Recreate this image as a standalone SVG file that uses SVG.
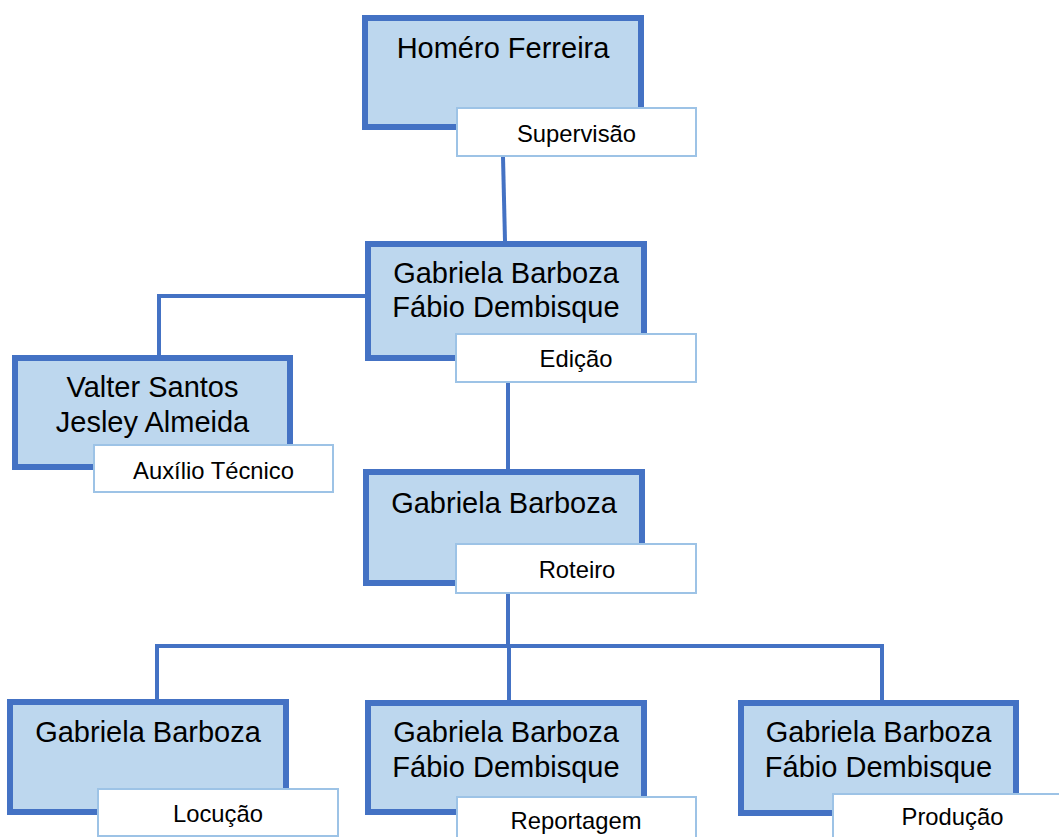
<svg xmlns="http://www.w3.org/2000/svg" width="1059" height="837" viewBox="0 0 1059 837">
<style>
.box{fill:#BDD7EE;stroke:#4472C4;stroke-width:6}
.lab{fill:#FFFFFF;stroke:#9DC3E6;stroke-width:2}
.conn{fill:none;stroke:#4472C4;stroke-width:4}
.mt{font-family:"Liberation Sans",Arial,sans-serif;font-size:29px;fill:#000;text-anchor:middle}
.lt{font-family:"Liberation Sans",Arial,sans-serif;font-size:23.8px;fill:#000;text-anchor:middle}
</style>
<rect width="1059" height="837" fill="#FFFFFF"/>
<g id="connectors">
<path class="conn" d="M503,157 L505,241"/>
<path class="conn" d="M366,296 L159,296 L159,356"/>
<path class="conn" d="M508,383 L508,470"/>
<path class="conn" d="M508,594 L508,646"/>
<path class="conn" d="M157,700 L157,646 L882,646 L882,701"/>
<path class="conn" d="M509,646 L509,701"/>
</g>
<g id="n-homero">
<rect class="box" x="365" y="18" width="276" height="109"/>
<text class="mt" x="503" y="58">Homéro Ferreira</text>
<rect class="lab" x="457" y="108" width="239" height="48"/>
<text class="lt" x="576.5" y="142">Supervisão</text>
</g>
<g id="n-edicao">
<rect class="box" x="368" y="244" width="276" height="114"/>
<text class="mt" x="506" y="283">Gabriela Barboza</text>
<text class="mt" x="506" y="317">Fábio Dembisque</text>
<rect class="lab" x="456" y="334" width="240" height="48"/>
<text class="lt" x="576" y="367">Edição</text>
</g>
<g id="n-auxilio">
<rect class="box" x="15" y="358" width="275" height="109"/>
<text class="mt" x="152.5" y="397">Valter Santos</text>
<text class="mt" x="152.5" y="432">Jesley Almeida</text>
<rect class="lab" x="94" y="445" width="239" height="47"/>
<text class="lt" x="213.5" y="479">Auxílio Técnico</text>
</g>
<g id="n-roteiro">
<rect class="box" x="366" y="472" width="276" height="111"/>
<text class="mt" x="504" y="513">Gabriela Barboza</text>
<rect class="lab" x="456" y="544" width="240" height="49"/>
<text class="lt" x="577" y="578">Roteiro</text>
</g>
<g id="n-locucao">
<rect class="box" x="10" y="702" width="276" height="110"/>
<text class="mt" x="148" y="742">Gabriela Barboza</text>
<rect class="lab" x="98" y="789" width="240" height="47"/>
<text class="lt" x="218" y="822">Locução</text>
</g>
<g id="n-reportagem">
<rect class="box" x="368" y="703" width="276" height="109"/>
<text class="mt" x="506" y="742">Gabriela Barboza</text>
<text class="mt" x="506" y="777">Fábio Dembisque</text>
<rect class="lab" x="457" y="797" width="239" height="48"/>
<text class="lt" x="576" y="829">Reportagem</text>
</g>
<g id="n-producao">
<rect class="box" x="741" y="703" width="275" height="110"/>
<text class="mt" x="878.5" y="742">Gabriela Barboza</text>
<text class="mt" x="878.5" y="777">Fábio Dembisque</text>
<rect class="lab" x="833" y="794" width="239" height="48"/>
<text class="lt" x="952.5" y="825">Produção</text>
</g>
</svg>
